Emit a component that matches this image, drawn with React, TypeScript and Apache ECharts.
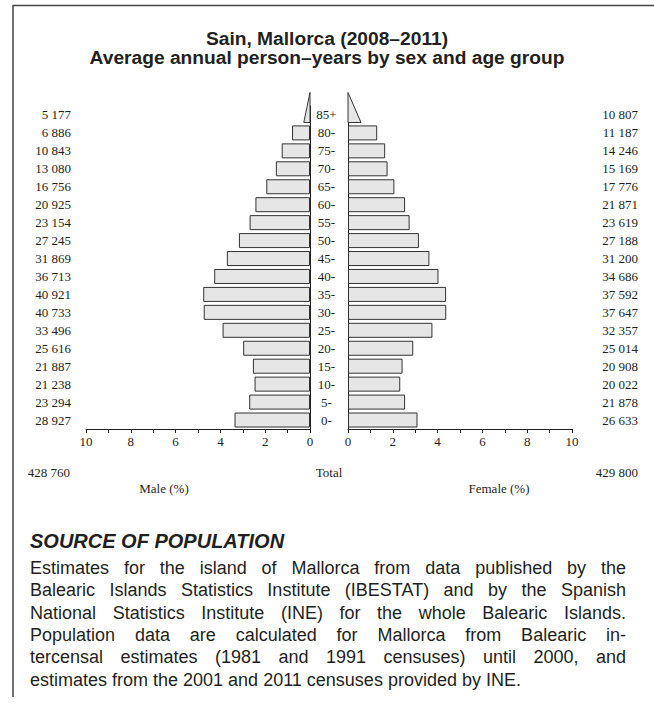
import React, { useEffect, useRef } from 'react';
import * as echarts from 'echarts';

// ---- data (top to bottom, as printed) ----
const AGE_GROUPS = ['85+', '80-', '75-', '70-', '65-', '60-', '55-', '50-', '45-', '40-', '35-', '30-', '25-', '20-', '15-', '10-', '5-', '0-'];
const MALE_COUNTS = [5177, 6886, 10843, 13080, 16756, 20925, 23154, 27245, 31869, 36713, 40921, 40733, 33496, 25616, 21887, 21238, 23294, 28927];
const FEMALE_COUNTS = [10807, 11187, 14246, 15169, 17776, 21871, 23619, 27188, 31200, 34686, 37592, 37647, 32357, 25014, 20908, 20022, 21878, 26633];
const PCT_MIN = 0;
const PCT_MAX = 10;
const PCT_STEP = 1;

const TITLE_LINES = ['Sain, Mallorca (2008\u20132011)', 'Average annual person\u2013years by sex and age group'];
const MALE_LABEL = 'Male (%)';
const FEMALE_LABEL = 'Female (%)';
const TOTAL_LABEL = 'Total';
const SOURCE_HEADING = 'SOURCE OF POPULATION';
const SOURCE_LINES = [
  'Estimates for the island of Mallorca from data published by the',
  'Balearic Islands Statistics Institute (IBESTAT) and by the Spanish',
  'National Statistics Institute (INE) for the whole Balearic Islands.',
  'Population data are calculated for Mallorca from Balearic in-',
  'tercensal estimates (1981 and 1991 censuses) until 2000, and',
  'estimates from the 2001 and 2011 censuses provided by INE.',
];

// ---- styles ----
const SERIF = '"Liberation Serif", "Times New Roman", serif';
const SANS = '"Liberation Sans", Arial, sans-serif';
const INK = '#231f20';
const BAR_FILL = '#e6e6e6';
const BAR_STROKE = '#333333';
const BAR_H = 15;
const TRI_FACTOR = 0.46;
const PARA_FONT = `18px ${SANS}`;
const PARA_LEFT = 30;
const PARA_RIGHT = 626;

const fmt = (n: number) => String(n).replace(/\B(?=(\d{3})+(?!\d))/g, ' ');

function paragraphElements() {
  const canvas = document.createElement('canvas');
  const ctx = canvas.getContext('2d');
  const out: any[] = [];
  SOURCE_LINES.forEach((line, i) => {
    const y = 568 + i * 22.3;
    const isLast = i === SOURCE_LINES.length - 1;
    if (isLast || !ctx) {
      out.push({ type: 'text', x: PARA_LEFT, y, style: { text: line, font: PARA_FONT, fill: INK, align: 'left', verticalAlign: 'middle' } });
      return;
    }
    ctx.font = PARA_FONT;
    const words = line.split(' ');
    const widths = words.map((w) => ctx.measureText(w).width);
    const sum = widths.reduce((a, b) => a + b, 0);
    const gap = (PARA_RIGHT - PARA_LEFT - sum) / (words.length - 1);
    let x = PARA_LEFT;
    words.forEach((w, k) => {
      out.push({ type: 'text', x, y, style: { text: w, font: PARA_FONT, fill: INK, align: 'left', verticalAlign: 'middle' } });
      x += widths[k] + gap;
    });
  });
  return out;
}

export default function App() {
  const ref = useRef<HTMLDivElement>(null);

  useEffect(() => {
    if (!ref.current) return;
    const chart = echarts.init(ref.current, null, { renderer: 'svg' });

    const cats = [...AGE_GROUPS].reverse();
    const maleR = [...MALE_COUNTS].reverse();
    const femaleR = [...FEMALE_COUNTS].reverse();
    const maleTotal = MALE_COUNTS.reduce((a, b) => a + b, 0);
    const femaleTotal = FEMALE_COUNTS.reduce((a, b) => a + b, 0);
    const total = maleTotal + femaleTotal;
    const pct = (v: number) => (v / total) * 100;
    const openIdx = cats.indexOf('85+');

    const maleBars = maleR.map((v, i) => (i === openIdx ? '-' : pct(v)));
    const femaleBars = femaleR.map((v, i) => (i === openIdx ? '-' : pct(v)));

    const tri = (params: any, api: any) => {
      const cat = api.value(1);
      const w = api.value(0) * TRI_FACTOR;
      const p0 = api.coord([0, cat]);
      const p1 = api.coord([w, cat]);
      const bottom = p0[1] + BAR_H / 2;
      const top = bottom - 2 * BAR_H;
      return {
        type: 'polygon',
        shape: { points: [[p0[0], bottom], [p0[0], top], [p1[0], bottom]] },
        style: { fill: BAR_FILL, stroke: BAR_STROKE, lineWidth: 1 },
      };
    };

    const gridTop = 106;
    const gridBottomY = 429;
    const grids = [
      { left: 86, width: 224, top: gridTop, height: gridBottomY - gridTop },
      { left: 348, width: 224, top: gridTop, height: gridBottomY - gridTop },
    ];

    const xAxisBase = {
      type: 'value',
      min: PCT_MIN,
      max: PCT_MAX,
      interval: PCT_STEP,
      splitLine: { show: false },
      axisLine: { show: true, lineStyle: { color: INK, width: 1 } },
      axisTick: { show: true, length: 4, lineStyle: { color: INK } },
      axisLabel: {
        formatter: (v: number) => (v % 2 === 0 ? String(v) : ''),
        fontFamily: SERIF,
        fontSize: 13,
        color: INK,
        margin: 6,
      },
    };

    const labelBase = { fontFamily: SERIF, fontSize: 13, color: INK, interval: 0 };

    chart.setOption({
      animation: false,
      backgroundColor: '#ffffff',
      title: {
        text: TITLE_LINES.join('\n'),
        left: 'center',
        top: 29,
        padding: 0,
        textStyle: { fontFamily: SANS, fontWeight: 'bold', fontSize: 19.2, lineHeight: 19, color: INK },
      },
      grid: grids,
      xAxis: [
        { ...xAxisBase, gridIndex: 0, inverse: true },
        { ...xAxisBase, gridIndex: 1 },
      ],
      yAxis: [
        {
          type: 'category', gridIndex: 0, data: cats, position: 'right',
          axisLine: { show: true, lineStyle: { color: INK, width: 1 } },
          axisTick: { show: false }, axisLabel: { show: false },
        },
        {
          type: 'category', gridIndex: 0, data: cats, position: 'left',
          axisLine: { show: false }, axisTick: { show: false },
          axisLabel: { ...labelBase, align: 'right', margin: 15, formatter: (_v: string, i: number) => fmt(maleR[i]) },
        },
        {
          type: 'category', gridIndex: 1, data: cats, position: 'left',
          axisLine: { show: true, lineStyle: { color: INK, width: 1 } },
          axisTick: { show: false },
          axisLabel: { ...labelBase, align: 'center', margin: 21.5 },
        },
        {
          type: 'category', gridIndex: 1, data: cats, position: 'right',
          axisLine: { show: false }, axisTick: { show: false },
          axisLabel: { ...labelBase, align: 'right', margin: 66, formatter: (_v: string, i: number) => fmt(femaleR[i]) },
        },
      ],
      series: [
        {
          name: 'Male', type: 'bar', xAxisIndex: 0, yAxisIndex: 0, data: maleBars, barWidth: BAR_H,
          itemStyle: { color: BAR_FILL, borderColor: BAR_STROKE, borderWidth: 1 },
        },
        {
          name: 'Female', type: 'bar', xAxisIndex: 1, yAxisIndex: 2, data: femaleBars, barWidth: BAR_H,
          itemStyle: { color: BAR_FILL, borderColor: BAR_STROKE, borderWidth: 1 },
        },
        {
          name: 'Male 85+', type: 'custom', xAxisIndex: 0, yAxisIndex: 0, renderItem: tri,
          encode: { x: 0, y: 1 }, data: [[pct(maleR[openIdx]), openIdx]], z: 3,
        },
        {
          name: 'Female 85+', type: 'custom', xAxisIndex: 1, yAxisIndex: 2, renderItem: tri,
          encode: { x: 0, y: 1 }, data: [[pct(femaleR[openIdx]), openIdx]], z: 3,
        },
      ],
      graphic: [
        { type: 'line', shape: { x1: 13, y1: 5.5, x2: 654, y2: 5.5 }, style: { stroke: '#444', lineWidth: 1.5 } },
        { type: 'line', shape: { x1: 13, y1: 5, x2: 13, y2: 697 }, style: { stroke: '#444', lineWidth: 1.5 } },
        { type: 'text', x: 70, y: 472, style: { text: fmt(maleTotal), font: `13px ${SERIF}`, fill: INK, align: 'right', verticalAlign: 'middle' } },
        { type: 'text', x: 329, y: 472, style: { text: TOTAL_LABEL, font: `13px ${SERIF}`, fill: INK, align: 'center', verticalAlign: 'middle' } },
        { type: 'text', x: 638, y: 472, style: { text: fmt(femaleTotal), font: `13px ${SERIF}`, fill: INK, align: 'right', verticalAlign: 'middle' } },
        { type: 'text', x: 164, y: 488, style: { text: MALE_LABEL, font: `13px ${SERIF}`, fill: INK, align: 'center', verticalAlign: 'middle' } },
        { type: 'text', x: 499, y: 488, style: { text: FEMALE_LABEL, font: `13px ${SERIF}`, fill: INK, align: 'center', verticalAlign: 'middle' } },
        { type: 'text', x: 30, y: 541, style: { text: SOURCE_HEADING, font: `italic bold 20px ${SANS}`, fill: INK, align: 'left', verticalAlign: 'middle' } },
        ...paragraphElements(),
      ],
    });

    return () => chart.dispose();
  }, []);

  return <div ref={ref} style={{ position: 'absolute', left: 0, top: 0, width: 654, height: 707 }} />;
}
